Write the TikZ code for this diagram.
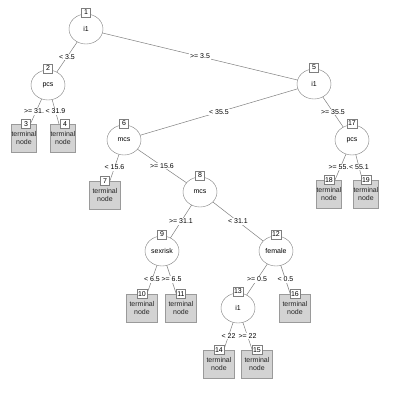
\documentclass[tikz,border=0pt]{standalone}
\usepackage{fontspec}
\setmainfont{Liberation Sans}
\usetikzlibrary{shapes.geometric,calc,backgrounds}
\definecolor{edgegray}{HTML}{7F7F7F}
\definecolor{termfill}{HTML}{D3D3D3}
\definecolor{termline}{HTML}{9A9A9A}
\tikzset{
  txt/.style={font=\fontsize{7}{8}\selectfont},
  inner/.style={txt, ellipse, draw=edgegray, fill=white, minimum width=34pt, minimum height=30pt, inner sep=0pt},
  term/.style={txt, rectangle, draw=termline, fill=termfill, minimum width=31pt, minimum height=28pt, inner sep=0pt, align=center, text=black!85},
  narrow/.style={minimum width=23pt},
  nbox/.style={txt, rectangle, draw=edgegray, fill=white, inner sep=1pt, minimum width=9pt, minimum height=9pt},
  elab/.style={txt, fill=white, inner xsep=1.5pt, inner ysep=0.6pt},
  edge/.style={draw=edgegray, line width=0.5pt}
}
\begin{document}
\begin{tikzpicture}[x=1pt,y=-1pt]
\useasboundingbox (0,0) rectangle (400,400);
% inner nodes
\node[inner] (n1) at (86,29) {i1};
\node[inner] (n2) at (48,85) {pcs};
\node[inner] (n5) at (314,84) {i1};
\node[inner] (n6) at (124,140) {mcs};
\node[inner] (n17) at (352,140) {pcs};
\node[inner] (n8) at (200,192) {mcs};
\node[inner] (n9) at (162,251) {sexrisk};
\node[inner] (n12) at (276,251) {female};
\node[inner] (n13) at (238,308) {i1};
% terminal nodes
\node[term,narrow] (t3) at (24,138) {terminal\\node};
\node[term,narrow] (t4) at (63,138) {terminal\\node};
\node[term] (t7) at (105,195) {terminal\\node};
\node[term,narrow] (t18) at (329,194) {terminal\\node};
\node[term,narrow] (t19) at (366,194) {terminal\\node};
\node[term] (t10) at (142,308) {terminal\\node};
\node[term] (t11) at (181,308) {terminal\\node};
\node[term] (t16) at (295,308) {terminal\\node};
\node[term] (t14) at (219,364) {terminal\\node};
\node[term] (t15) at (257,364) {terminal\\node};
% edges
\begin{scope}[on background layer]
\draw[edge] (n1.center) -- (n2.center);
\draw[edge] (n1.center) -- (n5.center);
\draw[edge] (n2.center) -- (t3.center);
\draw[edge] (n2.center) -- (t4.center);
\draw[edge] (n5.center) -- (n6.center);
\draw[edge] (n5.center) -- (n17.center);
\draw[edge] (n6.center) -- (t7.center);
\draw[edge] (n6.center) -- (n8.center);
\draw[edge] (n17.center) -- (t18.center);
\draw[edge] (n17.center) -- (t19.center);
\draw[edge] (n8.center) -- (n9.center);
\draw[edge] (n8.center) -- (n12.center);
\draw[edge] (n9.center) -- (t10.center);
\draw[edge] (n9.center) -- (t11.center);
\draw[edge] (n12.center) -- (n13.center);
\draw[edge] (n12.center) -- (t16.center);
\draw[edge] (n13.center) -- (t14.center);
\draw[edge] (n13.center) -- (t15.center);
\end{scope}
% number boxes
\node[nbox] (b1) at ($(n1.north)+(0,-1.5)$) {1};
\node[nbox] (b2) at ($(n2.north)+(0,-1.5)$) {2};
\node[nbox] (b5) at ($(n5.north)+(0,-1.5)$) {5};
\node[nbox] (b6) at ($(n6.north)+(0,-1.5)$) {6};
\node[nbox] (b17) at ($(n17.north)+(0,-1.5)$) {17};
\node[nbox] (b8) at ($(n8.north)+(0,-1.5)$) {8};
\node[nbox] (b9) at ($(n9.north)+(0,-1.5)$) {9};
\node[nbox] (b12) at ($(n12.north)+(0,-1.5)$) {12};
\node[nbox] (b13) at ($(n13.north)+(0,-1.5)$) {13};
\node[nbox] (b3) at ($(t3.north)+(2,0)$) {3};
\node[nbox] (b4) at ($(t4.north)+(2,0)$) {4};
\node[nbox] (b7) at ($(t7.north)+(0,0)$) {7};
\node[nbox] (b18) at ($(t18.north)+(0,0)$) {18};
\node[nbox] (b19) at ($(t19.north)+(0,0)$) {19};
\node[nbox] (b10) at ($(t10.north)+(0,0)$) {10};
\node[nbox] (b11) at ($(t11.north)+(0,0)$) {11};
\node[nbox] (b16) at ($(t16.north)+(0,0)$) {16};
\node[nbox] (b14) at ($(t14.north)+(0,0)$) {14};
\node[nbox] (b15) at ($(t15.north)+(0,0)$) {15};
% edge labels (left first, right drawn over)
\node[elab] (l12) at ($(n1)!0.5!(n2)$) {< 3.5};
\node[elab] (l15) at ($(n1)!0.5!(n5)$) {>= 3.5};
\node[elab] (l23) at ($(n2)!0.5!(t3)$) {>= 31.9};
\node[elab] (l24) at ($(n2)!0.5!(t4)$) {< 31.9};
\node[elab] (l56) at ($(n5)!0.5!(n6)$) {< 35.5};
\node[elab] (l517) at ($(n5)!0.5!(n17)$) {>= 35.5};
\node[elab] (l67) at ($(n6)!0.5!(t7)$) {< 15.6};
\node[elab] (l68) at ($(n6)!0.5!(n8)$) {>= 15.6};
\node[elab] (l1718) at ($(n17)!0.5!(t18)$) {>= 55.1};
\node[elab] (l1719) at ($(n17)!0.5!(t19)$) {< 55.1};
\node[elab] (l89) at ($(n8)!0.5!(n9)$) {>= 31.1};
\node[elab] (l812) at ($(n8)!0.5!(n12)$) {< 31.1};
\node[elab] (l910) at ($(n9)!0.5!(t10)$) {< 6.5};
\node[elab] (l911) at ($(n9)!0.5!(t11)$) {>= 6.5};
\node[elab] (l1213) at ($(n12)!0.5!(n13)$) {>= 0.5};
\node[elab] (l1216) at ($(n12)!0.5!(t16)$) {< 0.5};
\node[elab] (l1314) at ($(n13)!0.5!(t14)$) {< 22};
\node[elab] (l1315) at ($(n13)!0.5!(t15)$) {>= 22};
\end{tikzpicture}
\end{document}
